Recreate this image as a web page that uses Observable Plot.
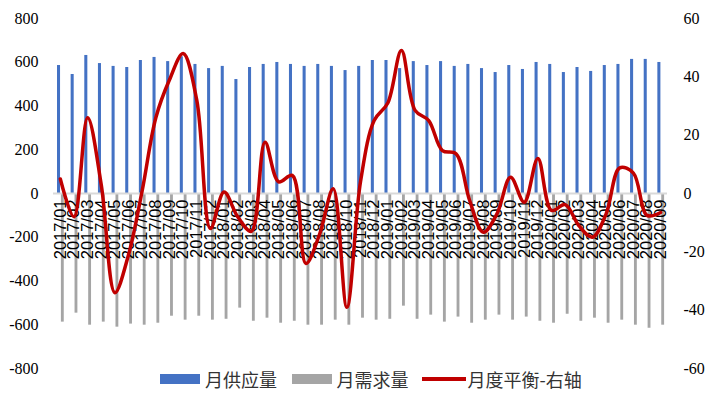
<!DOCTYPE html>
<html>
<head>
<meta charset="utf-8">
<script src="https://cdn.jsdelivr.net/npm/d3@7"></script>
<script src="https://cdn.jsdelivr.net/npm/@observablehq/plot@0.6"></script>
<style>
  html, body { margin: 0; padding: 0; background: #fff; }
  #wrap { position: relative; width: 716px; height: 398px; overflow: hidden; }
  #legend { position: absolute; left: 0; top: 368px; width: 716px; height: 22px;
    font-family: "Noto Sans CJK SC", sans-serif; font-size: 18px; color: #333; }
  .item { position: absolute; top: 0; display: flex; align-items: center; height: 22px; }
  .sw { display: inline-block; margin-right: 5px; }
</style>
</head>
<body>
<div id="wrap">
  <div id="chart"></div>
  <div id="legend"></div>
</div>
<script>
const months = [
  "2017/01","2017/02","2017/03","2017/04","2017/05","2017/06","2017/07","2017/08","2017/09","2017/10","2017/11","2017/12",
  "2018/01","2018/02","2018/03","2018/04","2018/05","2018/06","2018/07","2018/08","2018/09","2018/10","2018/11","2018/12",
  "2019/01","2019/02","2019/03","2019/04","2019/05","2019/06","2019/07","2019/08","2019/09","2019/10","2019/11","2019/12",
  "2020/01","2020/02","2020/03","2020/04","2020/05","2020/06","2020/07","2020/08","2020/09"
];
const supply = [585,544,631,594,581,576,608,622,603,625,590,571,
  581,521,576,590,599,590,581,590,581,562,581,608,
  608,571,603,585,603,581,590,571,553,585,567,599,
  590,553,576,558,585,590,613,613,599];
const demand = [-588,-547,-602,-588,-611,-597,-602,-593,-561,-579,-561,-579,
  -575,-524,-584,-570,-593,-584,-602,-602,-579,-602,-570,-579,
  -575,-515,-575,-556,-588,-565,-593,-579,-556,-579,-565,-584,
  -593,-552,-584,-570,-593,-579,-602,-616,-602];
const balance = [5,-8,26,3,-34,-21,1,26,39,48,32,-12,
  0.5,-8,-13,17.6,4,6.2,-24,-14,1.6,-39,4,25,
  31,49,28.5,25,14.7,13.6,-2.4,-13.3,-7,5.6,-3,12,
  -5.8,-3.8,-11,-15,-7,8.8,7,-7.5,-6.5];
const leftTicks = [-800,-600,-400,-200,0,200,400,600,800];
const rightTicks = [-60,-40,-20,0,20,40,60];
const seriesNames = ["月供应量","月需求量","月度平衡-右轴"];
const colors = ["#4472C4","#A5A5A5","#C00000"];

const ratio = 800 / 60;
const data = months.map((m, i) => ({
  month: m, supply: supply[i], demand: demand[i], balance: balance[i] * ratio
}));

const chart = Plot.plot({
  width: 716, height: 398,
  marginLeft: 53, marginRight: 49, marginTop: 18, marginBottom: 30,
  x: { type: "band", domain: months, paddingInner: 0, paddingOuter: 0, round: false, axis: null },
  y: { domain: [-800, 800], axis: null },
  style: { background: "white", color: "black", overflow: "visible" },
  marks: [
    Plot.barY(data, { x: "month", y: "supply", fill: colors[0], insetLeft: 4, insetRight: 6.6 }),
    Plot.barY(data, { x: "month", y: "demand", fill: colors[1], insetLeft: 7.9, insetRight: 2.9 }),
    Plot.ruleY([0], { stroke: "#D9D9D9", strokeWidth: 2 }),
    Plot.text(data, { x: "month", y: d => 0, text: "month", rotate: -90, textAnchor: "end",
      dy: 6, fontSize: 16.5, fontFamily: "Liberation Sans", fill: "black" }),
    Plot.line(data, { x: "month", y: "balance", stroke: colors[2], strokeWidth: 3.5,
      curve: "catmull-rom" }),
    Plot.axisY({ anchor: "left", ticks: leftTicks, tickSize: 0, tickPadding: 15,
      tickFormat: d => String(d), fontSize: 16, fontFamily: "Liberation Serif", fill: "black" }),
    Plot.axisY({ anchor: "right", ticks: rightTicks.map(v => v * ratio), tickSize: 0, tickPadding: 16,
      tickFormat: d => String(Math.round(d / ratio)), fontSize: 16, fontFamily: "Liberation Serif", fill: "black" })
  ]
});
document.getElementById("chart").appendChild(chart);

const legend = document.getElementById("legend");
const lefts = [160, 291.5, 421.5];
seriesNames.forEach((name, i) => {
  const it = document.createElement("div");
  it.className = "item";
  it.style.left = lefts[i] + "px";
  const sw = document.createElement("span");
  sw.className = "sw";
  sw.style.width = (i === 2 ? 44 : 40) + "px";
  sw.style.height = (i === 2 ? 4 : 10) + "px";
  sw.style.background = colors[i];
  if (i === 2) sw.style.marginRight = "2px";
  it.appendChild(sw);
  const t = document.createElement("span");
  t.textContent = name;
  it.appendChild(t);
  legend.appendChild(it);
});
</script>
</body>
</html>
